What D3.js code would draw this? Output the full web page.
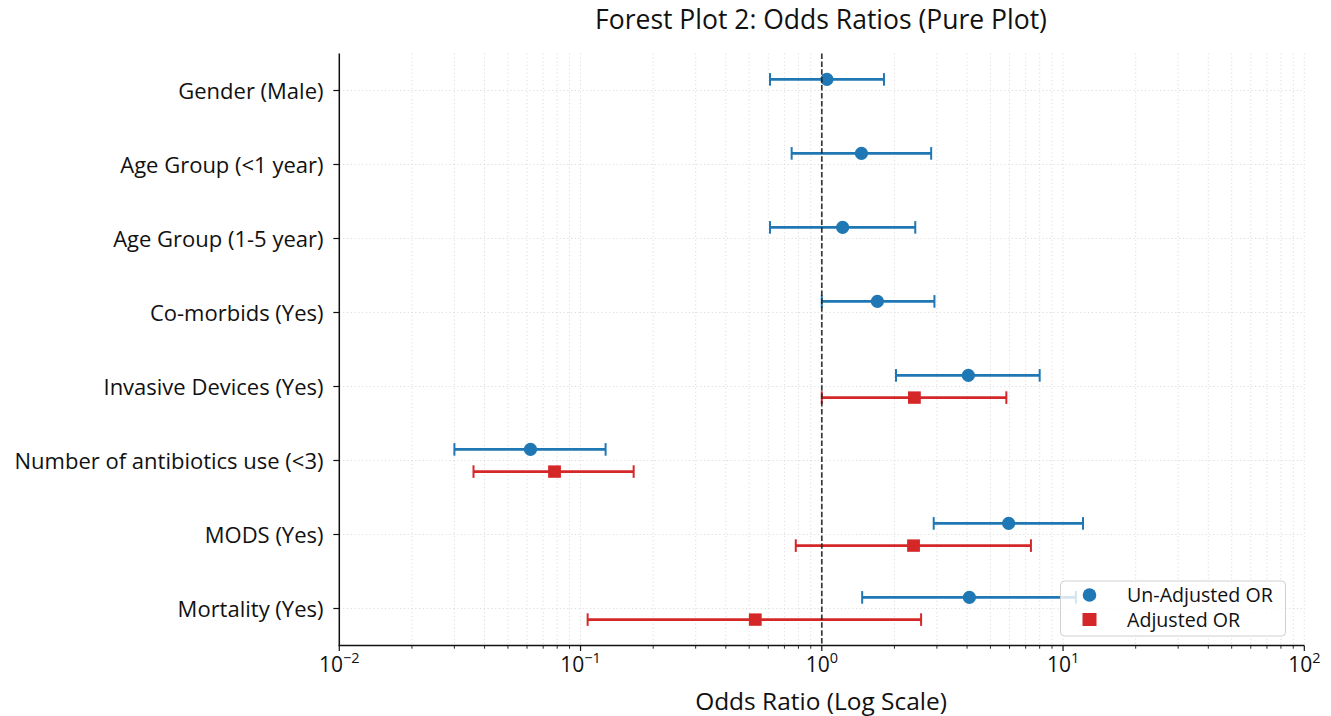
<!DOCTYPE html>
<html><head><meta charset="utf-8">
<script src="https://cdn.jsdelivr.net/npm/d3@7"></script>
<style>body{margin:0;background:#fff} svg{display:block}</style>
</head><body>
<svg id="chart" width="1331" height="716"></svg>
<script>
// ---------------- data ----------------
const categories = ["Gender (Male)", "Age Group (<1 year)", "Age Group (1-5 year)", "Co-morbids (Yes)",
  "Invasive Devices (Yes)", "Number of antibiotics use (<3)", "MODS (Yes)", "Mortality (Yes)"];
const unadjOR   = [1.05, 1.46, 1.22, 1.70, 4.05, 0.062, 5.95, 4.09];
const unadjLow  = [0.61, 0.75, 0.61, 1.00, 2.03, 0.030, 2.91, 1.47];
const unadjHigh = [1.81, 2.84, 2.44, 2.93, 8.00, 0.127, 12.1, 11.3];
const adjCategories = ["Invasive Devices (Yes)", "Number of antibiotics use (<3)", "MODS (Yes)", "Mortality (Yes)"];
const adjOR   = [2.42, 0.078, 2.40, 0.53];
const adjLow  = [1.00, 0.036, 0.78, 0.107];
const adjHigh = [5.82, 0.166, 7.36, 2.58];
const xTickValues = [0.01, 0.1, 1, 10, 100];
const xTickExponents = ["\u22122", "\u22121", "0", "1", "2"];
const seriesNames = ["Un-Adjusted OR", "Adjusted OR"];
const titleText = "Forest Plot 2: Odds Ratios (Pure Plot)";
const xLabelText = "Odds Ratio (Log Scale)";

// ---------------- layout ----------------
const FONT = "'Open Sans', sans-serif";
const BLUE = "#1f77b4", RED = "#d62728";
const L = 339.3, R = 1304.3, T = 53.5, B = 645.5;
const svg = d3.select("#chart");

const x = d3.scaleLog().domain([0.01, 100]).range([L, R]);
const y = d3.scaleLinear().domain([-0.5, 7.5]).range([T, B]);
const OFF = 0.15;

function fit(sel, target, base) {
  sel.style("font-size", base + "px");
  const w = sel.node().getBBox().width;
  const s = base * target / w;
  sel.style("font-size", s + "px");
  return s;
}

// minor + major tick values
const allTicks = [];
for (let e = -2; e < 2; e++) for (let m = 1; m <= 9; m++) allTicks.push(m * Math.pow(10, e));
allTicks.push(100);
const minorTicks = allTicks.filter(v => !xTickValues.some(t => Math.abs(t - v) / t < 1e-9));

// grid
const grid = svg.append("g");
grid.selectAll("line.vg").data(allTicks).enter().append("line")
  .attr("x1", d => x(d)).attr("x2", d => x(d)).attr("y1", T).attr("y2", B)
  .attr("stroke", "#d4d4d4").attr("stroke-width", 0.8).attr("stroke-dasharray", "1.2,2.6");
grid.selectAll("line.hg").data(categories).enter().append("line")
  .attr("x1", L).attr("x2", R).attr("y1", (d, i) => y(i)).attr("y2", (d, i) => y(i))
  .attr("stroke", "#d4d4d4").attr("stroke-width", 0.8).attr("stroke-dasharray", "1.2,2.6");

// data rows
const unadj = categories.map((c, i) => ({ i, or: unadjOR[i], lo: unadjLow[i], hi: unadjHigh[i] }));
const adj = adjCategories.map((c, k) => ({ i: categories.indexOf(c), or: adjOR[k], lo: adjLow[k], hi: adjHigh[k] }));

function drawSeries(data, color, off, shape) {
  const g = svg.append("g");
  const rows = g.selectAll("g").data(data).enter().append("g");
  rows.append("line").attr("x1", d => x(d.lo)).attr("x2", d => x(d.hi))
    .attr("y1", d => y(d.i + off)).attr("y2", d => y(d.i + off))
    .attr("stroke", color).attr("stroke-width", 2.8);
  ["lo", "hi"].forEach(k => {
    rows.append("line").attr("x1", d => x(d[k])).attr("x2", d => x(d[k]))
      .attr("y1", d => y(d.i + off) - 6.3).attr("y2", d => y(d.i + off) + 6.3)
      .attr("stroke", color).attr("stroke-width", 2);
  });
  if (shape === "circle") {
    rows.append("circle").attr("cx", d => x(d.or)).attr("cy", d => y(d.i + off)).attr("r", 6.6).attr("fill", color);
  } else {
    rows.append("rect").attr("x", d => x(d.or) - 6.4).attr("y", d => y(d.i + off) - 6.2)
      .attr("width", 12.8).attr("height", 12.4).attr("fill", color);
  }
}
drawSeries(unadj, BLUE, -OFF, "circle");
drawSeries(adj, RED, OFF, "square");

// reference line at OR = 1
svg.append("line").attr("x1", x(1)).attr("x2", x(1)).attr("y1", T).attr("y2", B)
  .attr("stroke", "#222").attr("stroke-opacity", 0.9).attr("stroke-width", 1.7)
  .attr("stroke-dasharray", "5.5,2.4");

// axes spines
svg.append("line").attr("x1", L).attr("x2", L).attr("y1", T).attr("y2", B).attr("stroke", "#111").attr("stroke-width", 1.5);
svg.append("line").attr("x1", L - 0.75).attr("x2", R).attr("y1", B).attr("y2", B).attr("stroke", "#111").attr("stroke-width", 1.5);

// x ticks
svg.selectAll("line.xmaj").data(xTickValues).enter().append("line")
  .attr("x1", d => x(d)).attr("x2", d => x(d)).attr("y1", B).attr("y2", B + 5.5)
  .attr("stroke", "#111").attr("stroke-width", 1.2);
svg.selectAll("line.xmin").data(minorTicks).enter().append("line")
  .attr("x1", d => x(d)).attr("x2", d => x(d)).attr("y1", B).attr("y2", B + 3.2)
  .attr("stroke", "#111").attr("stroke-width", 0.9);

// x tick labels
const xl = svg.append("g").selectAll("text").data(xTickValues).enter().append("text")
  .attr("x", d => x(d)).attr("y", 672).attr("text-anchor", "middle")
  .style("font-family", FONT).style("fill", "#111").style("font-size", "21px");
xl.append("tspan").text("10");
xl.append("tspan").attr("dy", -9).style("font-size", "14.5px").text((d, i) => xTickExponents[i]);

// y ticks and labels
svg.selectAll("line.yt").data(categories).enter().append("line")
  .attr("x1", L - 6).attr("x2", L).attr("y1", (d, i) => y(i)).attr("y2", (d, i) => y(i))
  .attr("stroke", "#111").attr("stroke-width", 1.2);
const yl = svg.append("g").selectAll("text").data(categories).enter().append("text")
  .attr("x", 323.5).attr("y", (d, i) => y(i)).attr("dy", "0.38em").attr("text-anchor", "end")
  .style("font-family", FONT).style("fill", "#111").text(d => d);
const ys = fit(d3.select(yl.nodes()[5]), 309, 18);
yl.style("font-size", ys + "px");

// title and x label
const title = svg.append("text").attr("x", 821).attr("y", 29).attr("text-anchor", "middle")
  .style("font-family", FONT).style("fill", "#111").text(titleText);
fit(title, 452, 20);
const xlab = svg.append("text").attr("x", 821).attr("y", 710).attr("text-anchor", "middle")
  .style("font-family", FONT).style("fill", "#111").text(xLabelText);
fit(xlab, 252, 20);

// legend
const lg = svg.append("g");
lg.append("rect").attr("x", 1060.5).attr("y", 581).attr("width", 225).attr("height", 55)
  .attr("rx", 4).attr("fill", "#fff").attr("fill-opacity", 0.8).attr("stroke", "#d0d0d0").attr("stroke-width", 1);
const legRows = [{ name: seriesNames[0], color: BLUE, shape: "circle", cy: 595 },
                 { name: seriesNames[1], color: RED, shape: "square", cy: 619.5 }];
legRows.forEach(r => {
  if (r.shape === "circle") lg.append("circle").attr("cx", 1089.5).attr("cy", r.cy).attr("r", 6.8).attr("fill", r.color);
  else lg.append("rect").attr("x", 1082.5).attr("y", r.cy - 6.5).attr("width", 14).attr("height", 13).attr("fill", r.color);
});
const lt = lg.selectAll("text.lt").data(legRows).enter().append("text")
  .attr("x", 1127).attr("y", d => d.cy).attr("dy", "0.36em")
  .style("font-family", FONT).style("fill", "#111").text(d => d.name);
const ls = fit(d3.select(lt.nodes()[0]), 146, 16);
lt.style("font-size", ls + "px");
</script>
</body></html>
